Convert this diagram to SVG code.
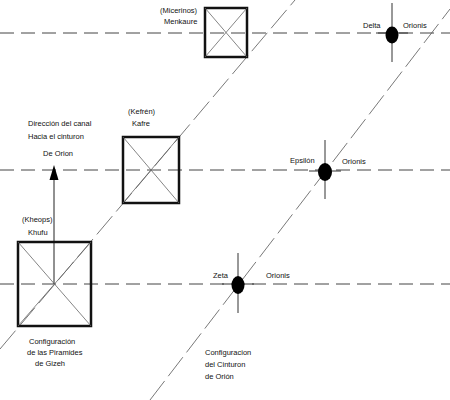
<svg xmlns="http://www.w3.org/2000/svg" width="450" height="400" viewBox="0 0 450 400">
<style>
.bg{fill:#fff}
.hl{stroke:#444;stroke-width:1;stroke-dasharray:14 7;fill:none}
.dg{stroke:#555;stroke-width:0.8;stroke-dasharray:24 6;fill:none}
.sq{fill:none;stroke:#111;stroke-width:2.5}
.x{stroke:#666;stroke-width:0.8}
.cr{stroke:#333;stroke-width:1}
.dot{fill:#000}
text{font-family:"Liberation Sans",Arial,sans-serif;font-size:7.5px;fill:#111}
</style>
<defs>
<marker id="ah" markerWidth="10" markerHeight="16" refX="5" refY="1" orient="auto-start-reverse" markerUnits="userSpaceOnUse" viewBox="0 0 10 16">
<path d="M5 0 L9.5 15 L0.5 15 Z" fill="#000"/>
</marker>
</defs>
<rect class="bg" width="450" height="400"/>
<g id="connectors">
<line class="hl" x1="0" y1="33" x2="450" y2="33"/>
<line class="hl" x1="0" y1="170" x2="450" y2="170"/>
<line class="hl" x1="0" y1="284" x2="450" y2="284"/>
<line class="dg" x1="0" y1="349" x2="295" y2="0"/>
<line class="dg" x1="150" y1="400" x2="450" y2="9"/>
<line x1="54" y1="284" x2="54" y2="180" stroke="#222" stroke-width="1"/>
<path d="M54 165 L58.5 180 L49.5 180 Z" fill="#000"/>
</g>
<g id="khufu">
<rect class="sq" x="18" y="242" width="73" height="84"/>
<line class="x" x1="18" y1="242" x2="91" y2="326"/>
<line class="x" x1="18" y1="326" x2="91" y2="242"/>
<text x="22" y="222">(Kheops)</text>
<text x="28" y="235">Khufu</text>
<text x="29" y="344">Configuración</text>
<text x="27" y="355">de las Piramides</text>
<text x="35" y="366">de Gizeh</text>
</g>
<g id="khafre">
<rect class="sq" x="123" y="137" width="56" height="66"/>
<line class="x" x1="123" y1="137" x2="179" y2="203"/>
<line class="x" x1="123" y1="203" x2="179" y2="137"/>
<text x="128" y="114">(Kefrén)</text>
<text x="132" y="126">Kafre</text>
</g>
<g id="menkaure">
<rect class="sq" x="205" y="8" width="42" height="49"/>
<line class="x" x1="205" y1="8" x2="247" y2="57"/>
<line class="x" x1="205" y1="57" x2="247" y2="8"/>
<text x="160" y="13">(Micerinos)</text>
<text x="164" y="24">Menkaure</text>
</g>
<g id="canal-label">
<text x="28" y="126">Dirección del canal</text>
<text x="28" y="139">Hacia el cinturon</text>
<text x="43" y="156">De Orion</text>
</g>
<g id="delta">
<line class="cr" x1="392" y1="3" x2="392" y2="62"/>
<line class="cr" x1="376" y1="33" x2="408" y2="33"/>
<ellipse class="dot" cx="392" cy="35" rx="6.5" ry="8.5"/>
<text x="363" y="28">Delta</text>
<text x="403" y="28">Orionis</text>
</g>
<g id="epsilon">
<line class="cr" x1="325" y1="140" x2="325" y2="199"/>
<line class="cr" x1="309" y1="171" x2="341" y2="171"/>
<ellipse class="dot" cx="325" cy="172" rx="7" ry="9"/>
<text x="290" y="163">Epsilón</text>
<text x="342" y="164">Orionis</text>
</g>
<g id="zeta">
<line class="cr" x1="238" y1="253" x2="238" y2="313"/>
<line class="cr" x1="222" y1="284" x2="254" y2="284"/>
<ellipse class="dot" cx="238" cy="285" rx="6.5" ry="9"/>
<text x="213" y="278">Zeta</text>
<text x="266" y="278">Orionis</text>
</g>
<g id="orion-label">
<text x="205" y="355">Configuracion</text>
<text x="205" y="367">del Cinturon</text>
<text x="205" y="379">de Orión</text>
</g>
</svg>
